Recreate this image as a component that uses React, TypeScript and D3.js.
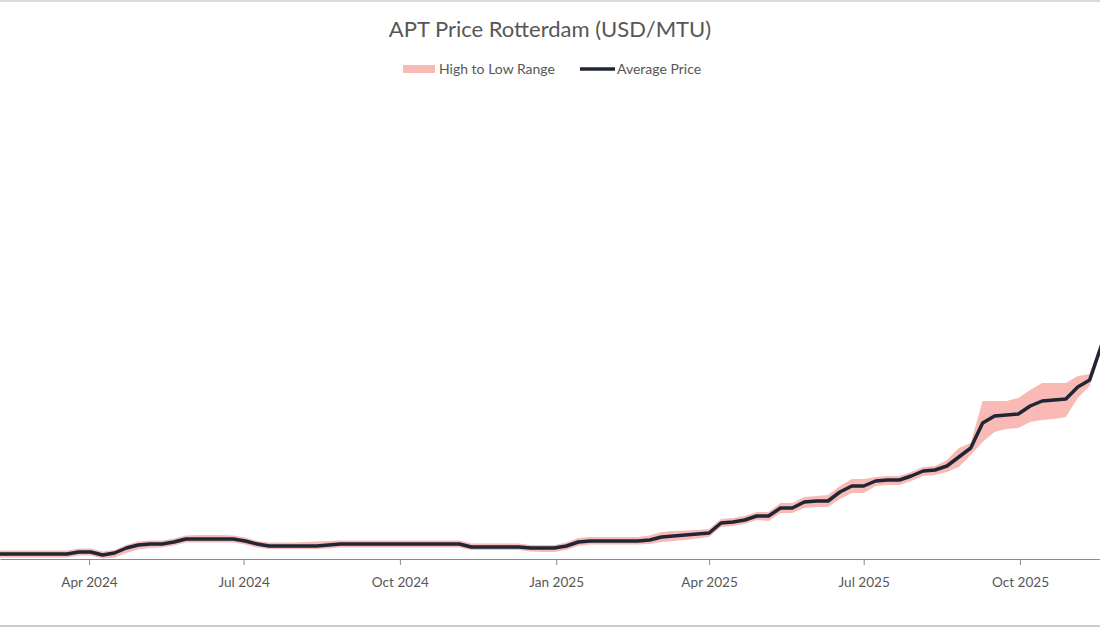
import React, { useEffect, useRef } from 'react';
import * as d3 from 'd3';

// weekly price assessments, USD/MTU
const firstWeek = new Date(2024, 0, 30);
const avgPrice = [
  310, 310, 310, 310, 310, 310, 310, 310, 314, 314,
  308, 312, 322, 328, 330, 330, 334, 340, 340, 340,
  340, 340, 336, 330, 326, 326, 326, 326, 326, 328,
  330, 330, 330, 330, 330, 330, 330, 330, 330, 330,
  330, 324, 324, 324, 324, 324, 322, 322, 322, 326,
  334, 336, 336, 336, 336, 336, 338, 344, 346, 348,
  350, 352, 372, 374, 378, 386, 386, 402, 402, 414,
  416, 416, 434, 446, 446, 456, 458, 458, 466, 476,
  478, 486, 504, 522, 572, 586, 588, 590, 606, 616,
  618, 620, 644, 658, 728,
];
const highPrice = [
  317, 317, 317, 317, 317, 317, 317, 317, 321, 321,
  315, 318, 328, 335, 337, 337, 341, 347, 348, 348,
  348, 347, 343, 336, 333, 333, 333, 334, 335, 336,
  337, 337, 337, 337, 337, 337, 337, 337, 337, 337,
  337, 331, 331, 331, 331, 331, 328, 328, 328, 333,
  342, 344, 344, 344, 344, 344, 347, 354, 356, 357,
  358, 360, 380, 382, 386, 394, 394, 412, 412, 424,
  426, 428, 446, 460, 460, 464, 466, 466, 474, 484,
  486, 498, 522, 532, 616, 616, 616, 622, 638, 652,
  652, 652, 666, 670, 738,
];
const lowPrice = [
  303, 303, 303, 303, 303, 303, 303, 303, 307, 307,
  301, 303, 312, 319, 322, 323, 327, 333, 333, 333,
  333, 333, 329, 323, 320, 320, 320, 320, 320, 321,
  323, 323, 323, 323, 323, 323, 323, 323, 323, 323,
  323, 318, 318, 318, 318, 318, 315, 314, 314, 318,
  326, 329, 329, 329, 329, 329, 330, 334, 336, 338,
  341, 344, 364, 366, 370, 378, 376, 392, 392, 402,
  404, 404, 420, 432, 432, 446, 448, 448, 456, 466,
  468, 474, 484, 508, 534, 554, 560, 562, 574, 578,
  580, 584, 622, 646, 718,
];
const seriesNames = ['High to Low Range', 'Average Price'];
const title = 'APT Price Rotterdam (USD/MTU)';

const App = () => {
  const ref = useRef<SVGSVGElement>(null);

  useEffect(() => {
    const width = 1100;
    const height = 628;
    const axisY = 559;
    const font = 'Lato, "Open Sans", sans-serif';
    const textColor = '#575757';

    const svg = d3.select(ref.current);
    svg.selectAll('*').remove();

    const weeks = avgPrice.map((_, i) => d3.timeDay.offset(firstWeek, i * 7));
    const rows = weeks.map((d, i) => ({ date: d, avg: avgPrice[i], high: highPrice[i], low: lowPrice[i] }));

    // the visible window is a crop of the full series
    const anchor = d3.scaleTime()
      .domain([new Date(2024, 3, 1), new Date(2025, 9, 1)])
      .range([89, 1020]);
    const x = d3.scaleTime()
      .domain([anchor.invert(0), anchor.invert(width)])
      .range([0, width]);

    const y = d3.scaleLinear()
      .domain([300, 1200])
      .range([axisY, 109]);

    svg.append('rect').attr('width', width).attr('height', height).attr('fill', '#fff');

    // frame lines
    svg.append('line').attr('x1', 0).attr('x2', width).attr('y1', 1).attr('y2', 1)
      .attr('stroke', '#cfcfcf').attr('stroke-width', 1.5);
    svg.append('line').attr('x1', 0).attr('x2', width).attr('y1', 626).attr('y2', 626)
      .attr('stroke', '#bdbdbd').attr('stroke-width', 1.5);

    svg.append('text')
      .attr('x', 550)
      .attr('y', 37)
      .attr('text-anchor', 'middle')
      .attr('font-family', font)
      .attr('font-size', 22)
      .attr('fill', textColor)
      .text(title);

    // legend
    const legend = svg.append('g').attr('font-family', font).attr('font-size', 14).attr('fill', textColor);
    legend.append('rect').attr('x', 403).attr('y', 65).attr('width', 32).attr('height', 8).attr('fill', '#f9bab6');
    legend.append('text').attr('x', 439).attr('y', 74).text(seriesNames[0]);
    legend.append('line').attr('x1', 580).attr('x2', 615).attr('y1', 69).attr('y2', 69)
      .attr('stroke', '#1f2635').attr('stroke-width', 3.5);
    legend.append('text').attr('x', 617).attr('y', 74).text(seriesNames[1]);

    svg.append('clipPath').attr('id', 'plot-clip')
      .append('rect').attr('x', 0).attr('y', 90).attr('width', width).attr('height', axisY - 90);

    const plot = svg.append('g').attr('clip-path', 'url(#plot-clip)');

    const band = d3.area<any>()
      .x((d) => x(d.date))
      .y0((d) => y(d.low))
      .y1((d) => y(d.high));

    plot.append('path')
      .datum(rows)
      .attr('d', band)
      .attr('fill', '#f9bab6');

    const line = d3.line<any>()
      .x((d) => x(d.date))
      .y((d) => y(d.avg));

    plot.append('path')
      .datum(rows)
      .attr('d', line)
      .attr('fill', 'none')
      .attr('stroke', '#1f2635')
      .attr('stroke-width', 3.5)
      .attr('stroke-linejoin', 'round');

    const axis = svg.append('g')
      .attr('transform', `translate(0, ${axisY})`)
      .call(d3.axisBottom(x)
        .ticks(d3.timeMonth.every(3))
        .tickFormat(d3.timeFormat('%b %Y') as any)
        .tickSize(6)
        .tickSizeOuter(0));
    axis.select('.domain').attr('stroke', '#8c8c8c').attr('stroke-width', 1.2);
    axis.selectAll('.tick line').attr('stroke', '#8c8c8c');
    axis.selectAll('.tick text')
      .attr('y', 18)
      .attr('font-family', font)
      .attr('font-size', 13.6)
      .attr('fill', textColor);
  }, []);

  return (
    <svg
      ref={ref}
      width={1100}
      height={628}
      style={{ position: 'absolute', top: 0, left: 0, display: 'block' }}
    />
  );
};

export default App;
